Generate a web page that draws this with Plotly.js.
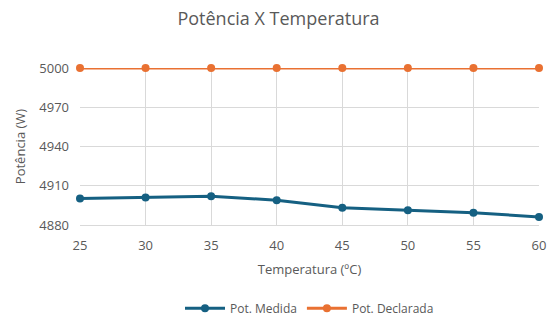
<!DOCTYPE html>
<html>
<head>
<meta charset="utf-8">
<script src="https://cdn.plot.ly/plotly-3.0.1.min.js"></script>
<style>html,body{margin:0;padding:0;background:#fff;}#chart{width:557px;height:334px;}</style>
</head>
<body>
<div id="chart"></div>
<script>
const temperaturas = [25, 30, 35, 40, 45, 50, 55, 60];
const potMedida = [4900.2, 4901.0, 4902.0, 4899.0, 4893.2, 4891.2, 4889.3, 4886.2];
const potDeclarada = [5000, 5000, 5000, 5000, 5000, 5000, 5000, 5000];
const yTicks = [4880, 4910, 4940, 4970, 5000];

const font = "'Open Sans', 'Noto Sans', sans-serif";
const traces = [
  {x: temperaturas, y: potMedida, name: 'Pot. Medida', mode: 'lines+markers', cliponaxis: false,
   line: {color: '#156082', width: 3}, marker: {color: '#156082', size: 8}},
  {x: temperaturas, y: potDeclarada, name: 'Pot. Declarada', mode: 'lines+markers', cliponaxis: false,
   line: {color: '#E97132', width: 3}, marker: {color: '#E97132', size: 8}}
];
const layout = {
  width: 557, height: 334,
  margin: {l: 80, r: 18, t: 68, b: 105},
  paper_bgcolor: '#fff', plot_bgcolor: '#fff',
  font: {family: font, color: '#595959', size: 12},
  title: {text: 'Potência X Temperatura', x: 0.5, xanchor: 'center', y: 0.945, yanchor: 'middle',
          font: {size: 18, color: '#595959', family: font}},
  xaxis: {range: [25, 60], tickvals: temperaturas, showgrid: true, gridcolor: '#d9d9d9',
          zeroline: false, showline: true, linecolor: '#d9d9d9', ticks: '', ticklabelstandoff: 8,
          tickfont: {size: 13, color: '#595959'},
          title: {text: 'Temperatura (ºC)', font: {size: 13, color: '#595959'}, standoff: 12}},
  yaxis: {range: [4880, 5000], tickvals: yTicks, showgrid: true, gridcolor: '#d9d9d9',
          zeroline: false, showline: false, ticks: '', ticklabelstandoff: 10,
          tickfont: {size: 13, color: '#595959'},
          title: {text: 'Potência (W)', font: {size: 13, color: '#595959'}, standoff: 10}},
  showlegend: true,
  legend: {orientation: 'h', x: 0.5, xanchor: 'center', y: -0.53, yanchor: 'middle',
           itemwidth: 40, font: {size: 12, color: '#595959'}}
};
Plotly.newPlot('chart', traces, layout, {displayModeBar: false, staticPlot: true});
</script>
</body>
</html>
